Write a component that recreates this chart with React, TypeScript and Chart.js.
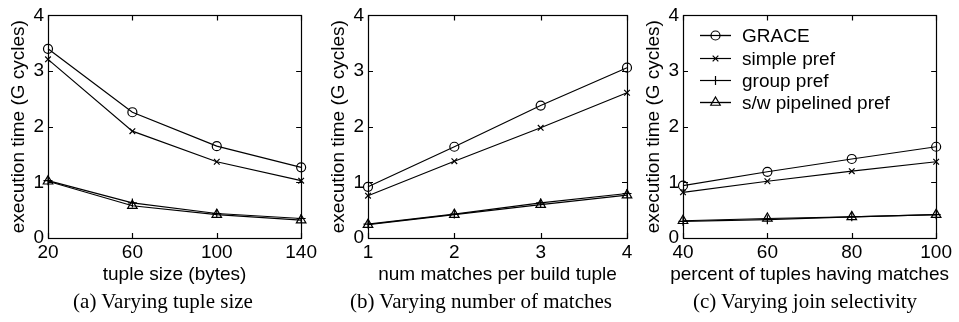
import React, { useEffect, useRef } from "react";
import { Chart, registerables } from "chart.js";
import { drawPoint } from "chart.js/helpers";

Chart.register(...registerables);

const seriesNames = ["GRACE", "simple pref", "group pref", "s/w pipelined pref"];
const yTicks = [0, 1, 2, 3, 4];

// (a) tuple size
const tupleSizes = [20, 60, 100, 140];
const aGrace = [3.40, 2.26, 1.65, 1.27];
const aSimple = [3.21, 1.92, 1.37, 1.03];
const aGroup = [1.03, 0.63, 0.44, 0.35];
const aPipe = [1.02, 0.58, 0.42, 0.32];

// (b) matches per build tuple
const matchCounts = [1, 2, 3, 4];
const bGrace = [0.92, 1.64, 2.38, 3.06];
const bSimple = [0.76, 1.38, 1.98, 2.61];
const bGroup = [0.25, 0.43, 0.63, 0.80];
const bPipe = [0.24, 0.42, 0.60, 0.77];

// (c) join selectivity
const selectivity = [40, 60, 80, 100];
const cGrace = [0.94, 1.19, 1.42, 1.64];
const cSimple = [0.82, 1.02, 1.20, 1.37];
const cGroup = [0.30, 0.33, 0.38, 0.42];
const cPipe = [0.31, 0.35, 0.38, 0.42];

const pointStyles = [
  { pointStyle: "circle", radius: 4.5 },
  { pointStyle: "crossRot", radius: 4 },
  { pointStyle: "cross", radius: 4.5 },
  { pointStyle: "triangle", radius: 5.5 },
];

const SANS = "'Liberation Sans', Arial, Helvetica, sans-serif";

const framePlugin = {
  id: "frame",
  afterDraw(chart: any, _args: any, opts: any) {
    const { ctx, chartArea } = chart;
    const { left, right, top, bottom } = chartArea;
    ctx.save();
    ctx.strokeStyle = "#000";
    ctx.lineWidth = 1.2;
    ctx.strokeRect(Math.round(left) + 0.5, Math.round(top) + 0.5, Math.round(right - left), Math.round(bottom - top));
    const tl = 5;
    ctx.beginPath();
    chart.scales.x.ticks.forEach((t: any) => {
      const px = Math.round(chart.scales.x.getPixelForValue(t.value)) + 0.5;
      ctx.moveTo(px, bottom);
      ctx.lineTo(px, bottom - tl);
      ctx.moveTo(px, top);
      ctx.lineTo(px, top + tl);
    });
    chart.scales.y.ticks.forEach((t: any) => {
      const py = Math.round(chart.scales.y.getPixelForValue(t.value)) + 0.5;
      ctx.moveTo(left, py);
      ctx.lineTo(left + tl, py);
      ctx.moveTo(right, py);
      ctx.lineTo(right - tl, py);
    });
    ctx.stroke();
    // x-axis title (drawn without width compression)
    if (opts && opts.xTitle) {
      ctx.fillStyle = "#000";
      ctx.font = `19px ${SANS}`;
      ctx.textAlign = "center";
      ctx.textBaseline = "middle";
      ctx.fillText(opts.xTitle, (left + right) / 2, bottom + 37);
    }
    ctx.restore();
  },
};

const legendPlugin = {
  id: "customLegend",
  afterDraw(chart: any, _args: any, opts: any) {
    if (!opts || !opts.show) return;
    const { ctx, chartArea } = chart;
    const { left, top } = chartArea;
    ctx.save();
    ctx.strokeStyle = "#000";
    ctx.lineWidth = 1.2;
    ctx.font = `19px ${SANS}`;
    ctx.textBaseline = "middle";
    seriesNames.forEach((name, i) => {
      const y = Math.round(top + 20 + i * 22.3) + 0.5;
      const x0 = left + 17;
      const x1 = left + 48;
      ctx.beginPath();
      ctx.moveTo(x0, y);
      ctx.lineTo(x1, y);
      ctx.stroke();
      ctx.fillStyle = "#fff";
      drawPoint(
        ctx,
        { pointStyle: pointStyles[i].pointStyle as any, radius: pointStyles[i].radius, rotation: 0, borderWidth: 1.2 } as any,
        (x0 + x1) / 2,
        y
      );
      if (pointStyles[i].pointStyle === "circle" || pointStyles[i].pointStyle === "triangle") {
        ctx.beginPath();
        ctx.moveTo(x0, y);
        ctx.lineTo(x1, y);
        ctx.stroke();
      }
      ctx.fillStyle = "#000";
      ctx.fillText(name, left + 59, y + 1);
    });
    ctx.restore();
  },
};

function makeConfig(xs: number[], series: number[][], xTitle: string, xMin: number, xMax: number, showLegend: boolean) {
  return {
    type: "line" as const,
    data: {
      datasets: series.map((vals, i) => ({
        label: seriesNames[i],
        data: xs.map((x, j) => ({ x, y: vals[j] })),
        borderColor: "#000",
        borderWidth: 1.2,
        backgroundColor: "rgba(0,0,0,0)",
        pointBorderColor: "#000",
        pointBackgroundColor: "rgba(0,0,0,0)",
        pointBorderWidth: 1.2,
        pointStyle: pointStyles[i].pointStyle,
        pointRadius: pointStyles[i].radius,
        tension: 0,
        clip: false,
      })),
    },
    options: {
      animation: false,
      responsive: false,
      events: [],
      layout: { padding: { top: 10, right: 13, left: 0, bottom: 0 } },
      plugins: {
        legend: { display: false },
        tooltip: { enabled: false },
        customLegend: { show: showLegend },
        frame: { xTitle },
      },
      scales: {
        x: {
          type: "linear",
          min: xMin,
          max: xMax,
          afterBuildTicks(scale: any) {
            scale.ticks = xs.map((v) => ({ value: v }));
          },
          afterFit(scale: any) {
            scale.height = 52;
          },
          grid: { display: false, drawTicks: false },
          border: { display: false },
          ticks: { color: "#000", font: { family: SANS, size: 19 }, padding: 3, maxRotation: 0, autoSkip: false },
          title: { display: false },
        },
        y: {
          type: "linear",
          min: 0,
          max: 4,
          afterBuildTicks(scale: any) {
            scale.ticks = yTicks.map((v) => ({ value: v }));
          },
          afterFit(scale: any) {
            scale.width = 48;
          },
          grid: { display: false, drawTicks: false },
          border: { display: false },
          ticks: { color: "#000", font: { family: SANS, size: 19 }, padding: 4 },
          title: { display: true, text: "execution time (G cycles)", color: "#000", font: { family: SANS, size: 19 }, padding: { top: 7, bottom: 0 } },
        },
      },
    },
    plugins: [framePlugin, legendPlugin],
  };
}

function Panel(props: { left: number; config: any; caption: string; captionCenter: number }) {
  const ref = useRef<HTMLCanvasElement>(null);
  useEffect(() => {
    const chart = new Chart(ref.current as HTMLCanvasElement, props.config);
    return () => chart.destroy();
  }, []);
  return (
    <>
      <canvas
        ref={ref}
        width={320}
        height={290}
        style={{ position: "absolute", left: props.left, top: 0, width: 320, height: 290 }}
      />
      <div
        style={{
          position: "absolute",
          left: props.captionCenter - 200,
          width: 400,
          top: 288,
          textAlign: "center",
          fontFamily: "'Liberation Serif', 'Times New Roman', serif",
          fontSize: 21,
          lineHeight: "26px",
          color: "#000",
          whiteSpace: "nowrap",
        }}
      >
        {props.caption}
      </div>
    </>
  );
}

export default function App() {
  const cfgA = makeConfig(tupleSizes, [aGrace, aSimple, aGroup, aPipe], "tuple size (bytes)", 20, 140, false);
  const cfgB = makeConfig(matchCounts, [bGrace, bSimple, bGroup, bPipe], "num matches per build tuple", 1, 4, false);
  const cfgC = makeConfig(selectivity, [cGrace, cSimple, cGroup, cPipe], "percent of tuples having matches", 40, 100, true);
  return (
    <div style={{ position: "absolute", left: 0, top: 0, width: 959, height: 322, background: "#fff", overflow: "hidden" }}>
      <Panel left={0} config={cfgA} caption="(a) Varying tuple size" captionCenter={163} />
      <Panel left={320} config={cfgB} caption="(b) Varying number of matches" captionCenter={481} />
      <Panel left={635} config={cfgC} caption="(c) Varying join selectivity" captionCenter={805} />
    </div>
  );
}
